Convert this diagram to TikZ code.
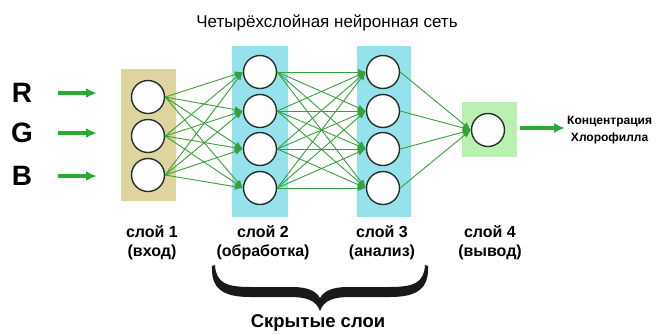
\documentclass[tikz,border=0pt]{standalone}
\usepackage{fontspec}
\setmainfont{Liberation Sans}
\usetikzlibrary{arrows.meta}

\definecolor{inbox}{RGB}{222,212,158}
\definecolor{hidbox}{RGB}{150,226,236}
\definecolor{outbox}{RGB}{186,240,176}
\definecolor{linkgreen}{RGB}{56,160,58}
\definecolor{flowgreen}{RGB}{40,172,52}
\definecolor{rimgrey}{RGB}{38,48,42}

\begin{document}
\begin{tikzpicture}[x=1pt,y=-1pt]
\tikzstyle{every node}=[font=\fontsize{16}{19}\selectfont]
\tikzstyle{neuron}=[circle,draw=rimgrey,fill=white,line width=1.4pt,minimum size=33pt,inner sep=0pt]
\tikzstyle{link}=[draw=linkgreen,line width=0.9pt,-{Latex[length=8pt,width=6.5pt]}]
\tikzstyle{flow}=[draw=flowgreen,line width=3.2pt,-{Latex[length=11pt,width=10pt]}]
\tikzstyle{layername}=[align=center,font=\fontsize{16}{19}\selectfont\bfseries]

\useasboundingbox (0,0) rectangle (659,333);

% Layer backgrounds
\fill[inbox] (121,69) rectangle (176,201);
\fill[hidbox] (232,46) rectangle (288,217);
\fill[hidbox] (357,46) rectangle (411,217);
\fill[outbox] (462,102) rectangle (517,157);

\node[font=\fontsize{17}{20}\selectfont] (title) at (327,23) {Четырёхслойная нейронная сеть};

% Neurons
\foreach \i/\y in {1/97,2/136,3/175}
  \node[neuron] (in\i) at (148,\y) {};
\foreach \i/\y in {1/72,2/111,3/149,4/188} {
  \node[neuron] (hid\i) at (260,\y) {};
  \node[neuron] (ana\i) at (383,\y) {};
}
\node[neuron] (out) at (488,130) {};

% Links between layers
\foreach \i in {1,2,3}
  \foreach \j in {1,...,4}
    \draw[link] (in\i.east) -- (hid\j.west);
\foreach \i in {1,...,4}
  \foreach \j in {1,...,4}
    \draw[link] (hid\i.east) -- (ana\j.west);
\foreach \i in {1,...,4}
  \draw[link] (ana\i.east) -- (out.west);

% Inputs R, G, B
\foreach \c/\y in {R/93,G/133,B/176} {
  \node[font=\fontsize{28}{30}\selectfont\bfseries] (lbl\c) at (22,\y) {\c};
  \coordinate (from\c) at (58,\y);
  \coordinate (to\c) at (97,\y);
  \draw[flow] (from\c) -- (to\c);
}

% Output
\node[anchor=west,align=center,inner sep=2pt,font=\fontsize{12}{17}\selectfont\bfseries] (chl) at (565,130)
  {Концентрация\\Хлорофилла};
\coordinate (outstart) at (520,128);
\draw[flow] (outstart) -- (chl.west |- outstart);

% Layer names
\node[layername] (name1) at (152,243) {слой 1\\(вход)};
\node[layername] (name2) at (263,243) {слой 2\\(обработка)};
\node[layername] (name3) at (382,243) {слой 3\\(анализ)};
\node[layername] (name4) at (490,243) {слой 4\\(вывод)};

% Hidden layers brace
\fill[black!90] (215,265) .. controls (216,282) and (225,287) .. (250,287) -- (292,287)
  .. controls (308,287) and (316,291) .. (320,298)
  .. controls (324,291) and (332,287) .. (348,287) -- (390,287)
  .. controls (415,287) and (424,282) .. (425,265) -- (428,266)
  .. controls (429,288) and (418,297) .. (390,297) -- (350,297)
  .. controls (334,297) and (324,300) .. (320,311)
  .. controls (316,300) and (306,297) .. (290,297) -- (250,297)
  .. controls (222,297) and (211,288) .. (212,266) -- cycle;
\node[font=\fontsize{18.5}{20}\selectfont\bfseries] (hidden) at (318,323) {Скрытые слои};

\end{tikzpicture}
\end{document}
